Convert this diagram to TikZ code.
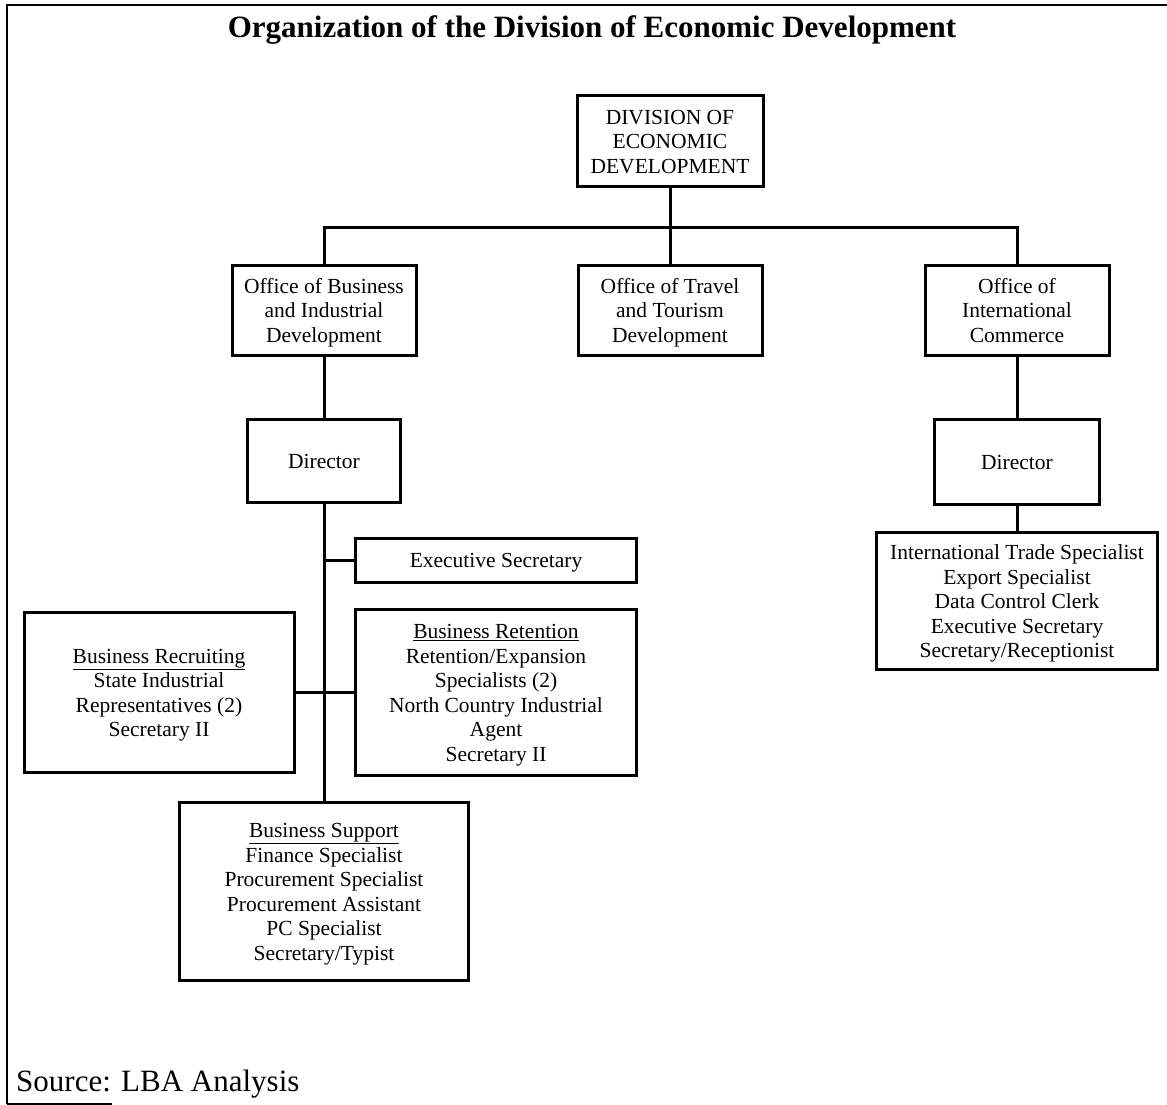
\documentclass[tikz,border=0pt]{standalone}
\usepackage{fontspec}
\setmainfont{Liberation Serif}
\newcommand{\boxfont}{\fontsize{21.5}{24.5}\selectfont}
\newcommand{\bigfont}{\fontsize{31}{36}\selectfont}
\newcommand{\bt}[1]{\raisebox{-3pt}[\height][\depth]{\begin{tabular}{@{}c@{}}#1\end{tabular}}}
\begin{document}
\begin{tikzpicture}[x=1pt,y=-1pt,
  box/.style={draw, line width=3pt, align=center, inner sep=0pt, font=\boxfont},
  conn/.style={line width=3pt},
  frame/.style={line width=2.5pt}]
\useasboundingbox (0,0) rectangle (1167,1105);
% frame
\coordinate (ftl) at (7,5);
\coordinate (ftr) at (1167,5);
\coordinate (fbl) at (7,1104);
\coordinate (fbr) at (112,1104);
\draw[frame] (ftr) -- (ftl) -- (fbl);
\draw[line width=1.5pt] (fbl) -- (fbr);
% title
\node[anchor=base, font=\bigfont\bfseries, inner sep=0pt] (title) at (592,38) {Organization of the Division of Economic Development};
\node[anchor=base west, font=\bigfont, inner sep=0pt] (source) at (16,1091) {Source: LBA Analysis};
% boxes
\node[box, minimum width=186pt, minimum height=90pt] (ded) at (670,141) {\bt{DIVISION OF\\ECONOMIC\\DEVELOPMENT}};
\node[box, minimum width=184pt, minimum height=90pt] (obid) at (324,310) {\bt{Office of Business\\and Industrial\\Development}};
\node[box, minimum width=184pt, minimum height=90pt] (travel) at (670,310) {\bt{Office of Travel\\and Tourism\\Development}};
\node[box, minimum width=184pt, minimum height=90pt] (oic) at (1017,310) {\bt{Office of\\International\\Commerce}};
\node[box, minimum width=153pt, minimum height=83pt] (dirL) at (324,461) {\bt{Director}};
\node[box, minimum width=165pt, minimum height=85pt] (dirR) at (1017,462) {\bt{Director}};
\node[box, minimum width=281pt, minimum height=137pt] (staffR) at (1017,601) {\bt{International Trade Specialist\\Export Specialist\\Data Control Clerk\\Executive Secretary\\Secretary/Receptionist}};
\node[box, minimum width=281pt, minimum height=44pt] (exec) at (496,560) {\bt{Executive Secretary}};
\node[box, minimum width=270pt, minimum height=160pt] (recr) at (159,692) {\bt{\underline{Business Recruiting}\\State Industrial\\Representatives (2)\\Secretary II}};
\node[box, minimum width=281pt, minimum height=166pt] (ret) at (496,692) {\bt{\underline{Business Retention}\\Retention/Expansion\\Specialists (2)\\North Country Industrial\\Agent\\Secretary II}};
\node[box, minimum width=289pt, minimum height=178pt] (supp) at (324,891) {\bt{\underline{Business Support}\\Finance Specialist\\Procurement Specialist\\Procurement Assistant\\PC Specialist\\Secretary/Typist}};
% connectors
\coordinate (bus) at (670,227);
\coordinate (jexec) at (324,560);
\draw[conn] (ded.south) -- (travel.north);
\draw[conn] (obid.north) |- (bus) -| (oic.north);
\draw[conn] (obid.south) -- (dirL.north);
\draw[conn] (oic.south) -- (dirR.north);
\draw[conn] (dirR.south) -- (staffR.north);
\draw[conn] (dirL.south) -- (supp.north);
\draw[conn] (jexec) -- (exec.west);
\draw[conn] (recr.east) -- (ret.west);
\end{tikzpicture}
\end{document}
